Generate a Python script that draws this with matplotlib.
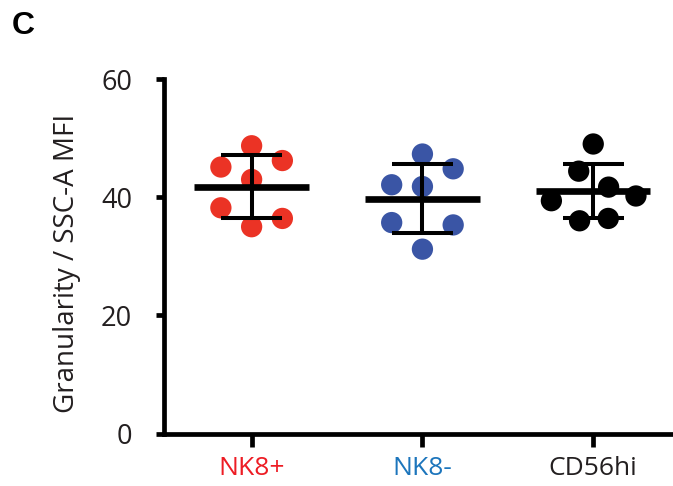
import numpy as np
import matplotlib
matplotlib.use("Agg")
import matplotlib.pyplot as plt

plt.rcParams['font.family'] = ['Open Sans', 'DejaVu Sans']

categories = ["NK8+", "NK8-", "CD56hi"]
nk8_pos = [48.7, 45.1, 46.2, 43.0, 38.2, 35.0, 36.4]
nk8_neg = [47.3, 44.8, 42.1, 41.8, 35.7, 35.3, 31.2]
cd56hi = [49.0, 44.4, 41.7, 39.4, 40.2, 36.0, 36.4]
series = [nk8_pos, nk8_neg, cd56hi]

# horizontal scatter layout (category units)
jitter = [
    [0, -0.18, 0.18, 0, -0.18, 0, 0.18],
    [0, 0.18, -0.18, 0, -0.18, 0.18, 0],
    [0, -0.085, 0.09, -0.245, 0.25, -0.08, 0.088],
]
dot_colors = ["#EB3325", "#3A55A5", "#000000"]
label_colors = ["#ED1C24", "#1C75BC", "#231F20"]
yticks = [0, 20, 40, 60]

W, H = 673, 486
fig = plt.figure(figsize=(W / 100, H / 100), dpi=100)
left_px, right_px = 164, 673
top_px, bot_px = 79, 433.5
ax = fig.add_axes([left_px / W, 1 - bot_px / H, (right_px - left_px) / W, (bot_px - top_px) / H])

for i, (vals, jit) in enumerate(zip(series, jitter)):
    vals = np.array(vals)
    xs = i + np.array(jit)
    ax.scatter(xs, vals, s=235, color=dot_colors[i], edgecolors='none', zorder=2, clip_on=False)
    m = vals.mean()
    sd = vals.std(ddof=1)
    ax.plot([i - 0.335, i + 0.335], [m, m], color='black', lw=4.8, solid_capstyle='butt', zorder=3)
    ax.plot([i, i], [m - sd, m + sd], color='black', lw=2.9, solid_capstyle='butt', zorder=3)
    for yv in (m - sd, m + sd):
        ax.plot([i - 0.178, i + 0.178], [yv, yv], color='black', lw=2.9, solid_capstyle='butt', zorder=3)

ax.set_xlim(-0.513, 2.467)
ax.set_ylim(0, 60)
ax.set_yticks(yticks)
ax.set_yticklabels([str(t) for t in yticks])
ax.set_xticks(range(len(categories)))
ax.set_xticklabels(categories)
for lbl, c in zip(ax.get_xticklabels(), label_colors):
    lbl.set_color(c)

for s in ['top', 'right']:
    ax.spines[s].set_visible(False)
for s in ['left', 'bottom']:
    ax.spines[s].set_linewidth(3.4)
    ax.spines[s].set_capstyle('projecting')

ax.tick_params(axis='y', length=6, width=3.4, labelsize=19.5, pad=17, colors='black', labelcolor='#231F20')
ax.tick_params(axis='x', length=9, width=3.4, labelsize=19, pad=7)

fig.text(67 / W, 1 - 263 / H, "Granularity / SSC-A MFI", rotation=90, ha='center', va='center',
         fontsize=20, color='#231F20')
fig.text(23 / W, 1 - 26 / H, "C", ha='center', va='center', fontsize=23, fontweight='bold',
         family=['Liberation Sans', 'DejaVu Sans'])

fig.savefig("out.png", dpi=100)
